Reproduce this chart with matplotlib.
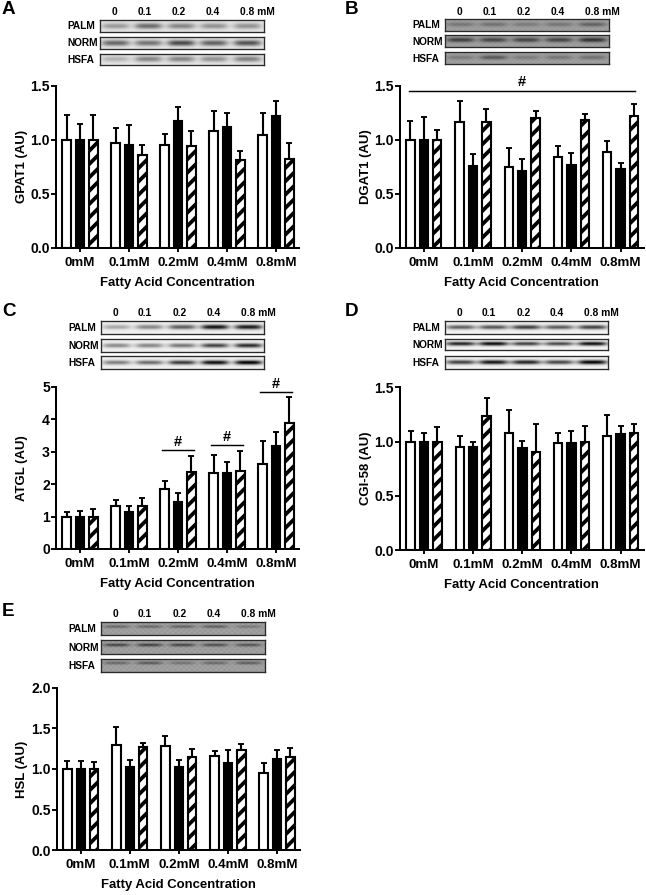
"""
plot.py

Five-panel lipid-protein figure: western blot strips above grouped bar
charts (PALM / NORM / HSFA) across fatty acid concentrations.
"""

import numpy as np
import matplotlib

matplotlib.use("Agg")
import matplotlib.pyplot as plt

# ---------------------------------------------------------------------------
# Data
# ---------------------------------------------------------------------------
CONCENTRATIONS = ["0mM", "0.1mM", "0.2mM", "0.4mM", "0.8mM"]
LANE_LABELS = ["0", "0.1", "0.2", "0.4", "0.8 mM"]
BLOT_ROWS = ["PALM", "NORM", "HSFA"]

GPAT1_PALM = [1.00, 0.966, 0.948, 1.077, 1.043]
GPAT1_NORM = [1.00, 0.950, 1.170, 1.114, 1.216]
GPAT1_HSFA = [1.00, 0.861, 0.941, 0.809, 0.818]
GPAT1_PALM_TOP = [1.228, 1.108, 1.052, 1.262, 1.247]
GPAT1_NORM_TOP = [1.145, 1.136, 1.302, 1.247, 1.358]
GPAT1_HSFA_TOP = [1.231, 0.948, 1.083, 0.898, 0.969]

DGAT1_PALM = [1.00, 1.167, 0.750, 0.840, 0.889]
DGAT1_NORM = [1.00, 0.762, 0.716, 0.765, 0.728]
DGAT1_HSFA = [1.00, 1.160, 1.198, 1.185, 1.216]
DGAT1_PALM_TOP = [1.170, 1.358, 0.926, 0.941, 0.985]
DGAT1_NORM_TOP = [1.207, 0.870, 0.821, 0.880, 0.787]
DGAT1_HSFA_TOP = [1.090, 1.287, 1.269, 1.238, 1.333]

ATGL_PALM = [1.00, 1.31, 1.86, 2.33, 2.61]
ATGL_NORM = [1.00, 1.15, 1.45, 2.35, 3.17]
ATGL_HSFA = [1.00, 1.31, 2.37, 2.39, 3.87]
ATGL_PALM_TOP = [1.13, 1.51, 2.09, 2.90, 3.33]
ATGL_NORM_TOP = [1.16, 1.31, 1.72, 2.67, 3.61]
ATGL_HSFA_TOP = [1.24, 1.57, 2.86, 3.03, 4.69]

CGI58_PALM = [1.00, 0.950, 1.082, 0.984, 1.048]
CGI58_NORM = [1.00, 0.950, 0.938, 0.990, 1.070]
CGI58_HSFA = [1.00, 1.239, 0.907, 0.993, 1.076]
CGI58_PALM_TOP = [1.100, 1.050, 1.288, 1.079, 1.245]
CGI58_NORM_TOP = [1.080, 0.996, 1.005, 1.094, 1.140]
CGI58_HSFA_TOP = [1.134, 1.400, 1.165, 1.144, 1.159]

HSL_PALM = [1.00, 1.295, 1.283, 1.156, 0.951]
HSL_NORM = [1.00, 1.025, 1.030, 1.078, 1.123]
HSL_HSFA = [1.00, 1.275, 1.148, 1.230, 1.143]
HSL_PALM_TOP = [1.10, 1.52, 1.41, 1.22, 1.078]
HSL_NORM_TOP = [1.10, 1.115, 1.115, 1.23, 1.234]
HSL_HSFA_TOP = [1.08, 1.32, 1.242, 1.307, 1.258]

# band darkness per lane, one list per blot row
GPAT1_BANDS = [[.30, .48, .38, .33, .33], [.50, .45, .62, .52, .58], [.20, .38, .38, .33, .40]]
DGAT1_BANDS = [[.16, .18, .14, .16, .24], [.38, .36, .36, .36, .44], [.14, .28, .14, .16, .18]]
ATGL_BANDS = [[.28, .42, .58, .88, .85], [.40, .42, .48, .68, .78], [.45, .52, .72, .90, .95]]
CGI58_BANDS = [[.58, .62, .72, .60, .70], [.82, .92, .70, .66, .90], [.70, .88, .82, .68, .95]]
HSL_BANDS = [[.22, .22, .24, .26, .16], [.36, .38, .36, .32, .30], [.22, .28, .18, .22, .26]]

# ---------------------------------------------------------------------------
# Layout (pixels of the 646x895 canvas)
# ---------------------------------------------------------------------------
DPI = 80
FIG_W, FIG_H = 646, 895
BAR_OFFSET = 0.273
BAR_WIDTH = 0.172
TICK_FS = 12
YTICK_FS = 12.6
LABEL_FS = 11.8
BLOT_FS = 9.1
LANE_FS = 9.2

PANELS = [
    dict(letter="A", ylabel="GPAT1 (AU)", box=(56, 85.7, 299, 247.7), yticks=[0, .5, 1, 1.5],
         ytick_labels=["0.0", "0.5", "1.0", "1.5"],
         values=(GPAT1_PALM, GPAT1_NORM, GPAT1_HSFA),
         tops=(GPAT1_PALM_TOP, GPAT1_NORM_TOP, GPAT1_HSFA_TOP),
         bands=GPAT1_BANDS, bg=.90, yc=0, sy=.50, sx=.085, grain=0,
         blot_x=(100.3, 263.7), blot_y=[(19.7, 31.7), (37, 48.7), (54, 65.3)],
         letter_xy=(2, 10), lanes_y=11.7, label_x=67, ylabel_x=22, xlabel_y=283),
    dict(letter="B", ylabel="DGAT1 (AU)", box=(399.7, 85.7, 643.7, 248), yticks=[0, .5, 1, 1.5],
         ytick_labels=["0.0", "0.5", "1.0", "1.5"],
         values=(DGAT1_PALM, DGAT1_NORM, DGAT1_HSFA),
         tops=(DGAT1_PALM_TOP, DGAT1_NORM_TOP, DGAT1_HSFA_TOP),
         bands=DGAT1_BANDS, bg=.62, yc=-.1, sy=.36, sx=.085, grain=.02,
         blot_x=(445.3, 608.7), blot_y=[(19, 30.7), (35, 47.3), (52.3, 64.3)],
         letter_xy=(345, 10), lanes_y=11.7, label_x=412, ylabel_x=366, xlabel_y=283),
    dict(letter="C", ylabel="ATGL (AU)", box=(56, 386.7, 299, 549), yticks=[0, 1, 2, 3, 4, 5],
         ytick_labels=["0", "1", "2", "3", "4", "5"],
         values=(ATGL_PALM, ATGL_NORM, ATGL_HSFA),
         tops=(ATGL_PALM_TOP, ATGL_NORM_TOP, ATGL_HSFA_TOP),
         bands=ATGL_BANDS, bg=.94, yc=0, sy=.34, sx=.085, grain=0,
         blot_x=(101, 264.3), blot_y=[(320.7, 334.3), (338.7, 351.7), (356, 368.7)],
         letter_xy=(2, 311), lanes_y=313, label_x=68, ylabel_x=22, xlabel_y=584),
    dict(letter="D", ylabel="CGI-58 (AU)", box=(400, 387.3, 643.7, 550), yticks=[0, .5, 1, 1.5],
         ytick_labels=["0.0", "0.5", "1.0", "1.5"],
         values=(CGI58_PALM, CGI58_NORM, CGI58_HSFA),
         tops=(CGI58_PALM_TOP, CGI58_NORM_TOP, CGI58_HSFA_TOP),
         bands=CGI58_BANDS, bg=.95, yc=-.05, sy=.34, sx=.09, grain=0,
         blot_x=(444.7, 608), blot_y=[(321, 333.7), (339.3, 350.3), (355.7, 368.7)],
         letter_xy=(345, 311), lanes_y=313, label_x=412, ylabel_x=366, xlabel_y=585),
    dict(letter="E", ylabel="HSL (AU)", box=(56.7, 687.7, 300, 850.3), yticks=[0, .5, 1, 1.5, 2],
         ytick_labels=["0.0", "0.5", "1.0", "1.5", "2.0"],
         values=(HSL_PALM, HSL_NORM, HSL_HSFA),
         tops=(HSL_PALM_TOP, HSL_NORM_TOP, HSL_HSFA_TOP),
         bands=HSL_BANDS, bg=.62, yc=-.3, sy=.22, sx=.08, grain=.035,
         blot_x=(101, 264.7), blot_y=[(622.3, 635), (640.3, 654.3), (659, 672.3)],
         letter_xy=(2, 611), lanes_y=614, label_x=68, ylabel_x=22, xlabel_y=885),
]

# significance brackets: panel letter, first group, last group, height in data units
BRACKETS = [
    ("B", -0.30, 4.30, 1.455),
    ("C", 1.67, 2.33, 3.05),
    ("C", 2.67, 3.33, 3.21),
    ("C", 3.67, 4.33, 4.84),
]


# ---------------------------------------------------------------------------
# Helpers
# ---------------------------------------------------------------------------

def px_axes(fig, left, top, right, bottom):
    return fig.add_axes([left / FIG_W, 1 - bottom / FIG_H,
                         (right - left) / FIG_W, (bottom - top) / FIG_H])


def blot_image(bands, bg, yc, sy, sx, grain):
    """Draw one blot strip from the band darkness of each lane."""
    ys = np.linspace(-1, 1, 36)[:, None]
    xs = np.linspace(0, 1, 400)[None, :]
    img = np.full((36, 400), bg, dtype=float)
    for centre, dark in zip([.095, .295, .495, .695, .90], bands):
        img -= dark * np.exp(-((ys - yc) / sy) ** 2) * np.exp(-((xs - centre) / sx) ** 4)
    if grain:
        # fixed streaks so that the darker scans look less smooth
        img += grain * np.sin(xs * 190) * np.cos(ys * 9)
    return np.clip(img, 0, 1)


def draw_blot(fig, panel):
    x0, x1 = panel["blot_x"]
    for row, (y0, y1), bands in zip(BLOT_ROWS, panel["blot_y"], panel["bands"]):
        ax = px_axes(fig, x0, y0, x1, y1)
        ax.imshow(blot_image(bands, panel["bg"], panel["yc"], panel["sy"], panel["sx"], panel["grain"]),
                  cmap="gray", vmin=0, vmax=1, aspect="auto", interpolation="bilinear")
        ax.set_xticks([])
        ax.set_yticks([])
        for spine in ax.spines.values():
            spine.set_linewidth(1.2)
            spine.set_color("#2a2a2a")
        fig.text(panel["label_x"] / FIG_W, 1 - (y0 + y1 + 1) / 2 / FIG_H, row,
                 fontsize=BLOT_FS, ha="left", va="center")
    lane_px = [x0 + 14.5, x0 + 44, x0 + 78.5, x0 + 112.5, x0 + 157]
    for text, xp in zip(LANE_LABELS, lane_px):
        fig.text(xp / FIG_W, 1 - panel["lanes_y"] / FIG_H, text,
                 fontsize=LANE_FS, ha="center", va="center")


def draw_bars(fig, panel):
    ax = px_axes(fig, *panel["box"])
    x = np.arange(len(CONCENTRATIONS))
    styles = [dict(facecolor="white"), dict(facecolor="black"),
              dict(facecolor="white", hatch="//")]
    for i, (vals, tops, style) in enumerate(zip(panel["values"], panel["tops"], styles)):
        pos = x + (i - 1) * BAR_OFFSET
        vals = np.array(vals)
        ax.bar(pos, vals, width=BAR_WIDTH, edgecolor="black", linewidth=1.9, zorder=3, **style)
        ax.errorbar(pos, vals, yerr=[np.zeros_like(vals), np.array(tops) - vals],
                    fmt="none", ecolor="black", elinewidth=1.9, capsize=3, capthick=1.7, zorder=2)

    ax.set_xlim(-0.49, 4.47)
    ax.set_ylim(panel["yticks"][0], panel["yticks"][-1])
    ax.set_xticks(x)
    ax.set_xticklabels(CONCENTRATIONS, fontsize=TICK_FS)
    ax.set_yticks(panel["yticks"])
    ax.set_yticklabels(panel["ytick_labels"], fontsize=YTICK_FS)
    ax.tick_params(axis="y", length=4.5, width=1.7, pad=1)
    ax.tick_params(axis="x", length=3.5, width=1.7, pad=4.5)
    ax.spines["top"].set_visible(False)
    ax.spines["right"].set_visible(False)
    ax.spines["left"].set_linewidth(1.8)
    ax.spines["bottom"].set_linewidth(1.8)

    fig.text(panel["ylabel_x"] / FIG_W, 1 - (panel["box"][1] + panel["box"][3]) / 2 / FIG_H,
             panel["ylabel"], fontsize=LABEL_FS, rotation=90, ha="center", va="center")
    fig.text((panel["box"][0] + panel["box"][2]) / 2 / FIG_W, 1 - panel["xlabel_y"] / FIG_H,
             "Fatty Acid Concentration", fontsize=LABEL_FS, ha="center", va="center")

    for letter, g0, g1, height in BRACKETS:
        if letter == panel["letter"]:
            ax.plot([g0, g1], [height, height], color="black", lw=1.3, clip_on=False, zorder=4)
            ax.annotate("#", ((g0 + g1) / 2, height), xytext=(0, 1.0),
                        textcoords="offset points", ha="center", va="bottom",
                        fontsize=13, annotation_clip=False)


def make_figure(output_path):
    plt.rcParams["font.family"] = ["Liberation Sans", "DejaVu Sans"]
    plt.rcParams["font.weight"] = "bold"
    plt.rcParams["hatch.linewidth"] = 3.4

    fig = plt.figure(figsize=(FIG_W / DPI, FIG_H / DPI), dpi=DPI, facecolor="white")
    for panel in PANELS:
        draw_blot(fig, panel)
        draw_bars(fig, panel)
        lx, ly = panel["letter_xy"]
        fig.text(lx / FIG_W, 1 - ly / FIG_H, panel["letter"], fontsize=17,
                 ha="left", va="center")
    fig.savefig(output_path, dpi=DPI)
    plt.close(fig)


def main():
    make_figure("out.png")


if __name__ == "__main__":
    main()
